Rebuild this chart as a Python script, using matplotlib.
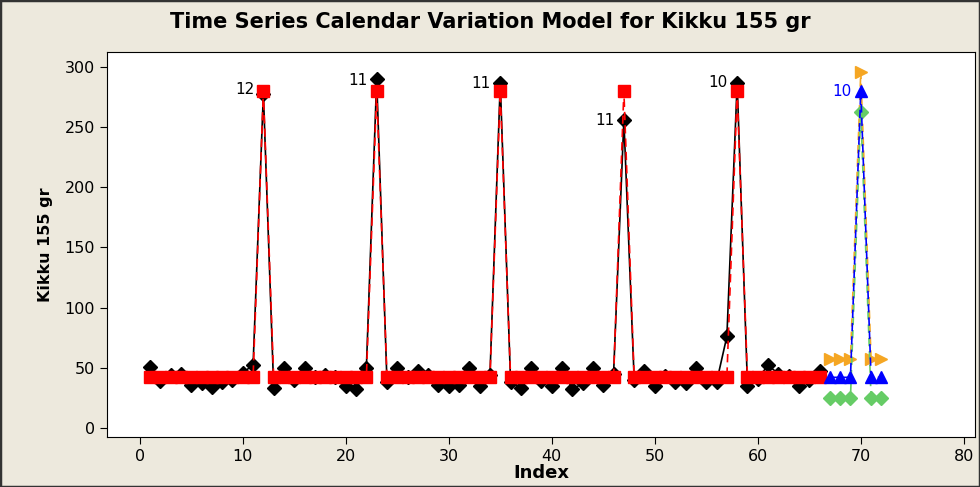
import matplotlib.pyplot as plt
from matplotlib.patches import Rectangle

# actual series, index 1..66
actual = [51, 39, 44, 45, 36, 37, 34, 38, 40, 46, 52, 278, 33, 50, 40, 50, 42, 44, 42, 35,
          32, 50, 290, 38, 50, 42, 47, 44, 36, 35, 36, 50, 35, 44, 287, 38, 33, 50, 39, 35,
          50, 32, 37, 50, 36, 45, 256, 40, 47, 35, 43, 38, 37, 50, 38, 38, 76, 287, 35, 41,
          52, 45, 43, 35, 40, 47]
# fitted values of the calendar variation model
base_fit = 42
peak_fit = 280
peak_idx = [12, 23, 35, 47, 58]

# forecasts index 67..72
fc_idx = [67, 68, 69, 70, 71, 72]
forecast = [42, 42, 42, 280, 42, 42]
upper = [57, 57, 57, 296, 57, 57]
lower = [25, 25, 25, 263, 25, 25]

# point labels
lab_idx = [12, 23, 35, 47, 58]
lab_txt = ['12', '11', '11', '11', '10']
lab_y = [281, 289, 286, 256, 287]

idx = list(range(1, len(actual) + 1))
fits = [peak_fit if i in peak_idx else base_fit for i in idx]

fig = plt.figure(figsize=(9.8, 4.87), dpi=100, facecolor='#EDE9DD')
ax = fig.add_axes([0.109, 0.103, 0.886, 0.790])

ax.plot(idx, actual, color='black', lw=1.2, marker='D', ms=7, zorder=2)
ax.plot(idx, fits, color='red', lw=1.2, ls=(0, (5, 3)), marker='s', ms=9, zorder=3)

ax.plot(fc_idx, upper, color='#F5A623', lw=1.2, ls=(0, (5, 3)), marker='>', ms=9, zorder=3)
ax.plot(fc_idx, lower, color='#66CC66', lw=1.2, ls=(0, (5, 3)), marker='D', ms=7, zorder=3)
ax.plot(fc_idx, forecast, color='blue', lw=1.2, ls=(0, (5, 3)), marker='^', ms=9, zorder=4)

for xi, yi, t in zip(lab_idx, lab_y, lab_txt):
    ax.text(xi - 0.9, yi, t, ha='right', va='center', fontsize=11)
ax.text(fc_idx[3] - 0.9, forecast[3], '10', ha='right', va='center', fontsize=11, color='blue')

ax.set_xlim(-3.2, 81.1)
ax.set_ylim(-7.5, 312.5)
ax.set_xticks(range(0, 81, 10))
ax.set_yticks(range(0, 301, 50))
ax.tick_params(labelsize=11.5, length=5)
ax.set_xlabel('Index', fontsize=13, fontweight='bold', labelpad=0)
ax.set_ylabel('Kikku 155 gr', fontsize=11.5, fontweight='bold', labelpad=8)
fig.text(0.5, 0.955, 'Time Series Calendar Variation Model for Kikku 155 gr',
         ha='center', va='center', fontsize=15, fontweight='bold')

fig.patches.append(Rectangle((0, 0), 1, 1, transform=fig.transFigure, fill=False,
                             edgecolor='#333333', lw=2.5))

fig.savefig('out.png', dpi=100, facecolor=fig.get_facecolor())
